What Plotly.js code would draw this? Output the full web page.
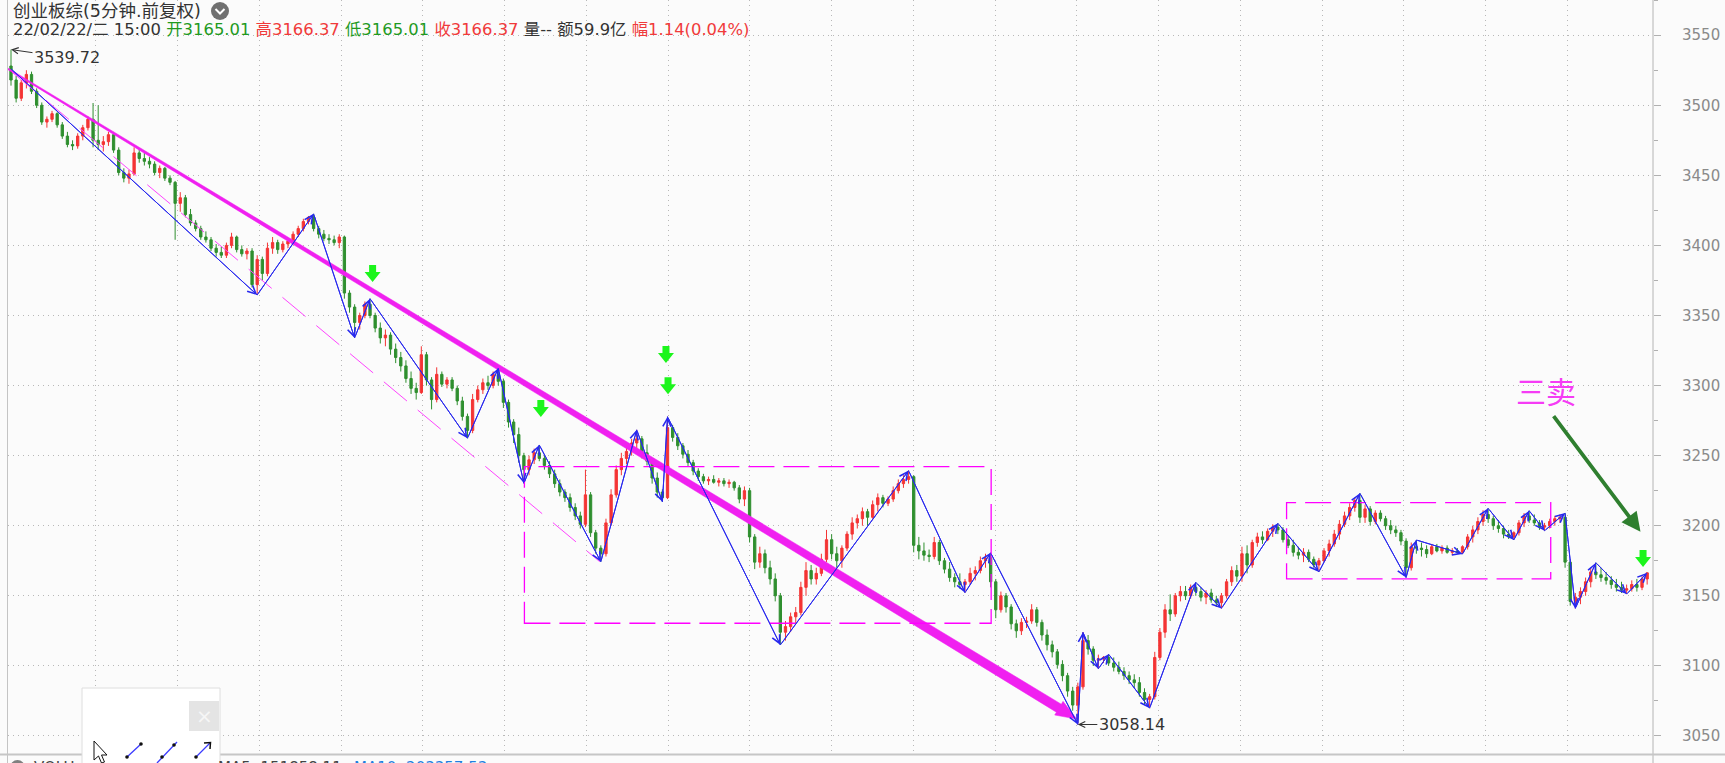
<!DOCTYPE html>
<html><head><meta charset="utf-8">
<script src="https://cdn.plot.ly/plotly-3.0.1.min.js"></script>
<style>html,body{margin:0;padding:0;background:#fbfbfb;}#chart{width:1725px;height:763px;}</style>
</head><body><div id="chart"></div>
<script>
// ---- 15-minute candles ----
const openP = [
3528,3518,3505,3516,3522,3510,3500,3488,3490,3494,3486,3478,3472,3471,3478,3484,
3490,3475,3472,3474,3479,3468,3452,3448,3451,3466,3462,3460,3458,3452,3455,3448,
3445,3430,3434,3422,3416,3412,3406,3404,3398,3395,3393,3400,3406,3397,3394,3396,
3372,3390,3380,3398,3402,3397,3401,3403,3408,3412,3417,3420,3412,3408,3405,3404,
3402,3406,3366,3356,3345,3350,3358,3350,3341,3334,3336,3326,3320,3314,3305,3298,
3295,3322,3304,3290,3308,3301,3304,3298,3289,3278,3268,3290,3297,3302,3300,3308,
3303,3288,3274,3265,3250,3240,3247,3252,3248,3243,3237,3230,3224,3220,3213,3207,
3201,3222,3195,3184,3180,3202,3222,3240,3248,3253,3259,3262,3252,3246,3234,3224,
3220,3270,3263,3257,3251,3245,3239,3235,3232,3233,3231,3232,3230,3231,3227,3219,
3225,3192,3174,3180,3170,3162,3150,3124,3128,3135,3138,3156,3168,3162,3166,3176,
3190,3180,3175,3184,3194,3202,3205,3210,3206,3215,3220,3216,3219,3225,3230,3233,
3235,3186,3182,3179,3178,3188,3175,3169,3163,3160,3158,3160,3166,3168,3175,3177,
3160,3140,3150,3142,3130,3125,3131,3132,3140,3131,3122,3115,3110,3101,3093,3082,
3072,3085,3118,3112,3104,3105,3106,3102,3099,3096,3093,3090,3088,3081,3076,3078,
3106,3124,3140,3137,3150,3153,3150,3156,3153,3149,3152,3147,3145,3150,3160,3168,
3164,3180,3172,3188,3192,3190,3196,3199,3197,3190,3186,3181,3179,3181,3176,3172,
3175,3182,3187,3194,3201,3207,3213,3218,3206,3212,3203,3209,3205,3200,3197,3195,
3189,3170,3185,3184,3183,3180,3185,3182,3184,3181,3182,3181,3185,3192,3197,3203,
3208,3205,3200,3198,3194,3192,3195,3202,3207,3204,3202,3199,3200,3203,3205,3206,
3174,3146,3149,3153,3160,3167,3165,3163,3161,3158,3156,3154,3155,3158,3156,3162];
const highP = [
3539.72,3521,3518,3525,3524,3512,3502,3492,3496,3495,3488,3481,3475,3480,3486,3492,
3501.6,3500,3478,3481,3481,3470,3455,3454,3470,3469,3466,3463,3460,3457,3456,3450,
3446,3438,3436,3426,3418,3414,3410,3406,3401,3399,3402,3409,3407,3400,3398,3398,
3393,3392,3402,3406,3404,3403,3405,3410,3414,3419,3421,3422.5,3414,3411,3408,3407,
3408,3407,3368,3358,3352,3360,3362,3352,3345,3340,3338,3330,3324,3318,3310,3302,
3328,3324,3306,3313,3310,3306,3306,3300,3292,3280,3294,3300,3305,3307,3310,3312.3,
3305,3290,3276,3270,3252,3250,3255,3257.6,3250,3246,3240,3233,3226,3223,3216,3210,
3240,3224,3197,3186,3205,3226,3243,3252,3256,3262,3268.4,3264,3258,3248,3238,3226,
3277.8,3272,3266,3259,3254,3247,3241,3237,3235,3236,3234,3234,3233,3232,3229,3228,
3227,3194,3185,3183,3175,3166,3152,3132,3138,3142,3160,3174,3172,3170,3180,3197,
3194,3185,3186,3196,3206,3208,3213,3212,3218,3223,3222,3221,3228,3233,3236,3239.3,
3236,3192,3188,3183,3192,3190,3177,3174,3166,3166,3162,3170,3171,3178,3180,3180.7,
3162,3153,3152,3144,3133,3134,3135,3144,3142,3133,3126,3118,3112,3104,3095,3085,
3088,3124,3122,3114,3108,3107,3108.3,3106,3103,3099,3096,3094,3092,3084,3080,3110,
3127,3144,3151,3152,3157,3157,3158,3159.6,3156,3154,3155,3150,3152,3162,3171,3172,
3185,3186,3190,3195,3196,3198,3201,3201.7,3199,3193,3190,3185,3184,3183,3178,3177,
3184,3190,3197,3204,3210,3216,3220,3223.1,3215,3214,3211,3211,3207,3204,3200,3197,
3191,3188,3189.8,3188,3186,3187,3187,3186,3186,3184,3184,3186,3194,3200,3206,3211,
3212.4,3207,3204,3200,3197,3196,3204,3209,3210.7,3208,3204,3202,3205,3207,3208,3209,
3176,3152,3156,3163,3170,3173.6,3170,3167,3164,3162,3160,3158,3161,3162,3164,3166.37];
const lowP = [
3514,3502,3503,3512,3508,3498,3486,3484,3488,3484,3476,3470,3468,3469,3475,3482,
3470,3468,3467,3471,3466,3450,3445,3444,3450,3459,3457,3455,3450,3448,3446,3443,
3404,3424,3420,3414,3410,3404,3402,3396,3392,3391,3391,3398,3395,3392,3390,3370,
3364.6,3375,3378,3394,3394,3395,3398,3402,3406,3410,3415,3410,3405,3403,3401,3400,
3398,3362,3352,3334,3340,3348,3348,3338,3330,3328,3322,3316,3310,3302,3294,3290,
3294,3300,3283,3288,3299,3298,3296,3286,3275,3262.4,3266,3288,3294,3297,3298,3300,
3284,3270,3259,3245,3230.2,3236,3244,3246,3240,3234,3227,3221,3217,3210,3204,3198,
3199,3192,3180,3174.3,3178,3200,3220,3236,3244,3250,3254,3248,3243,3230,3220,3217,
3219,3260,3254,3248,3242,3236,3232,3230,3229,3230,3228,3228,3227,3225,3216,3214,
3188,3169,3170,3166,3158,3146,3114.9,3118,3124,3130,3136,3150,3158,3158,3164,3174,
3176,3170,3170,3182,3190,3198,3200,3200,3205,3210,3213,3214,3217,3223,3227,3230,
3181,3176,3175,3174,3176,3172,3166,3160,3156,3155,3152.2,3158,3161,3166,3170,3156,
3134,3138,3138,3126,3120,3122,3127,3130,3128,3118,3111,3106,3098,3089,3078,3068,
3058.14,3083,3108,3100,3097.9,3102,3100,3096,3094,3090,3087,3084,3078,3072,3069.8,3076,
3104,3120,3132,3135,3146,3147,3148,3150,3146,3144,3145,3142,3141,3148,3157,3160,
3160,3166,3170,3185,3187,3189,3192,3194,3188,3184,3178,3176,3174,3174,3170,3167,
3174,3178,3185,3190,3199,3204,3210,3202,3202,3200,3201,3203,3197,3194,3192,3186,
3163,3168,3180,3178,3177,3179,3181,3180,3180,3179,3180,3179.8,3183,3188,3194,3200,
3202,3197,3195,3191,3190.5,3189.8,3193,3199,3202,3200,3197,3196.4,3198,3200,3202,3170,
3143,3141,3144,3150,3156,3162,3160,3158,3155,3153,3152,3151.2,3153,3153,3154,3158];
const closeP = [
3518,3505,3516,3522,3510,3500,3488,3490,3494,3486,3478,3472,3471,3478,3484,3490,
3475,3472,3474,3479,3468,3452,3448,3451,3466,3462,3460,3458,3452,3455,3448,3445,
3430,3434,3422,3416,3412,3406,3404,3398,3395,3393,3400,3406,3397,3394,3396,3372,
3390,3380,3398,3402,3397,3401,3403,3408,3412,3417,3420,3412,3408,3405,3404,3402,
3406,3366,3356,3345,3350,3358,3350,3341,3334,3336,3326,3320,3314,3305,3298,3295,
3322,3304,3290,3308,3301,3304,3298,3289,3278,3268,3290,3297,3302,3300,3308,3303,
3288,3274,3265,3250,3240,3247,3252,3248,3243,3237,3230,3224,3220,3213,3207,3201,
3222,3195,3184,3180,3202,3222,3240,3248,3253,3259,3262,3252,3246,3234,3224,3220,
3270,3263,3257,3251,3245,3239,3235,3232,3233,3231,3232,3230,3231,3227,3219,3225,
3192,3174,3180,3170,3162,3150,3124,3128,3135,3138,3156,3168,3162,3166,3176,3190,
3180,3175,3184,3194,3202,3205,3210,3206,3215,3220,3216,3219,3225,3230,3233,3235,
3186,3182,3179,3178,3188,3175,3169,3163,3160,3158,3160,3166,3168,3175,3177,3160,
3140,3150,3142,3130,3125,3131,3132,3140,3131,3122,3115,3110,3101,3093,3082,3072,
3085,3118,3112,3104,3105,3106,3102,3099,3096,3093,3090,3088,3081,3076,3078,3106,
3124,3140,3137,3150,3153,3150,3156,3153,3149,3152,3147,3145,3150,3160,3168,3164,
3180,3172,3188,3192,3190,3196,3199,3197,3190,3186,3181,3179,3181,3176,3172,3175,
3182,3187,3194,3201,3207,3213,3218,3206,3212,3203,3209,3205,3200,3197,3195,3189,
3170,3185,3184,3183,3180,3185,3182,3184,3181,3182,3181,3185,3192,3197,3203,3208,
3205,3200,3198,3194,3192,3195,3202,3207,3204,3202,3199,3200,3203,3205,3206,3174,
3146,3149,3153,3160,3167,3165,3163,3161,3158,3156,3154,3155,3158,3156,3162,3166.37];

// ---- zigzag (stroke) pivots: candle index, price ----
const zzX = [0,48,59,67,70,89,95,100,103,115,122,127,128,150,175,186,191,208,209,212,214,222,231,236,247,255,263,272,274,283,288,293,296,299,303,305,309,315,319];
const zzY = [3526,3364.6,3422.5,3334,3362,3262.4,3312.3,3230.2,3257.6,3174.3,3268.4,3217,3277.8,3114.9,3239.3,3152.2,3180.7,3058.14,3124,3097.9,3108.3,3069.8,3159.6,3141,3201.7,3167,3223.1,3163,3189.8,3179.8,3212.4,3189.8,3210.7,3196.4,3209,3141,3173.6,3151.2,3166.37];

// ---- drawn objects ----
const trendX = [-0.6, 207.8];      // thick magenta down-trend arrow
const trendY = [3526, 3062];
const chanX = [0.2, 114.8];        // dashed channel line
const chanY = [3523.7, 3174.3];
const boxX0 = [100.1, 248.7];      // pivot zones (dashed rectangles)
const boxX1 = [191.1, 300.2];
const boxY0 = [3130.4, 3162.0];
const boxY1 = [3242.1, 3216.4];
const sigX = [70.5, 103.3, 127.7, 128.1, 318.2];   // green sell arrows
const sigY = [3386, 3289.6, 3328.2, 3305.9, 3182.6];
const hiLabel = {x: 0, y: 3539.72, text: '3539.72'};
const loLabel = {x: 208, y: 3058.14, text: '3058.14'};
const sellText = '三卖';
const sellPos = {x: 299.3, y: 3296.8};
const sellTip = {x: 317.7, y: 3195.7};
const yTickVals = [3050,3100,3150,3200,3250,3300,3350,3400,3450,3500,3550];

const titleText = '创业板综(5分钟.前复权)';
const infoParts = [
  ['22/02/22/二 15:00', '#333333'], ['开3165.01', '#1f9a1f'], ['高3166.37', '#f03a3a'],
  ['低3165.01', '#1f9a1f'], ['收3166.37', '#f03a3a'], ['量-- 额59.9亿', '#333333'], ['幅1.14(0.04%)', '#f03a3a']
];
const volText = 'VOLU';
const ma5Text = 'MA5: 151858.11';
const ma10Text = 'MA10: 203357.53';

// ---- geometry ----
const W = 1725, H = 763;
const M = {l: 8, r: 72, t: 0, b: 9};
const PW = W - M.l - M.r, PH = H - M.t - M.b;
const xRange = [-0.585, 320.14];
const yRange = [3037.1, 3575.1];
const x2px = v => M.l + (v - xRange[0]) / (xRange[1] - xRange[0]) * PW;
const y2px = v => M.t + (yRange[1] - v) / (yRange[1] - yRange[0]) * PH;
const px2x = p => xRange[0] + (p - M.l) / PW * (xRange[1] - xRange[0]);
const py2y = p => yRange[1] - (p - M.t) / PH * (yRange[1] - yRange[0]);
const ppx = p => (p - M.l) / PW;
const ppy = p => 1 - (p - M.t) / PH;

const idx = closeP.map((_, i) => i);
const dayTicks = [];
for (let k = 1; k <= 19; k++) dayTicks.push(px2x(14 + 81.75 * k));

function taperArrow(x0, y0, x1, y1) {
  const a = [x2px(x0), y2px(y0)], b = [x2px(x1), y2px(y1)];
  const dx = b[0] - a[0], dy = b[1] - a[1], len = Math.hypot(dx, dy);
  const ux = dx / len, uy = dy / len, nx = -uy, ny = ux;
  const headLen = 21, headW = 8, w0 = 0.7, w1 = 4.7;
  const base = [b[0] - ux * headLen, b[1] - uy * headLen];
  const pts = [
    [a[0] + nx * w0, a[1] + ny * w0], [base[0] + nx * w1, base[1] + ny * w1],
    [base[0] + nx * headW, base[1] + ny * headW], b,
    [base[0] - nx * headW, base[1] - ny * headW], [base[0] - nx * w1, base[1] - ny * w1],
    [a[0] - nx * w0, a[1] - ny * w0], [a[0] + nx * w0, a[1] + ny * w0]];
  return {x: pts.map(p => px2x(p[0])), y: pts.map(p => py2y(p[1]))};
}
const wedge = taperArrow(trendX[0], trendY[0], trendX[1], trendY[1]);

const BLUE = '#2828ee', MAG = '#f020f0';

const traces = [
  {type: 'candlestick', x: idx, open: openP, high: highP, low: lowP, close: closeP,
   increasing: {line: {color: '#f43434', width: 1}, fillcolor: '#f43434'},
   decreasing: {line: {color: '#2f8f2f', width: 1}, fillcolor: '#2f8f2f'},
   whiskerwidth: 0, hoverinfo: 'skip', showlegend: false},
  {type: 'scatter', mode: 'lines', x: wedge.x, y: wedge.y, fill: 'toself', fillcolor: MAG,
   line: {color: MAG, width: 0.5}, hoverinfo: 'skip', showlegend: false},
  {type: 'scatter', mode: 'lines', x: zzX, y: zzY, line: {color: BLUE, width: 1},
   hoverinfo: 'skip', showlegend: false}
];

const shapes = [];
// hide grid in header band
shapes.push({type: 'rect', xref: 'paper', yref: 'paper', x0: 0, x1: 1, y0: ppy(46), y1: 1,
  fillcolor: '#fbfbfb', line: {width: 0}, layer: 'between'});
// borders
shapes.push({type: 'line', xref: 'paper', yref: 'paper', x0: ppx(7.5), x1: ppx(7.5), y0: ppy(0), y1: ppy(763), line: {color: '#c4c4c4', width: 1}});
shapes.push({type: 'line', xref: 'paper', yref: 'paper', x0: ppx(1653), x1: ppx(1653), y0: ppy(0), y1: ppy(763), line: {color: '#b4b4b4', width: 1}});
shapes.push({type: 'line', xref: 'paper', yref: 'paper', x0: ppx(0), x1: ppx(1725), y0: ppy(754.6), y1: ppy(754.6), line: {color: '#c6c6c6', width: 2}});
// channel line + zones
shapes.push({type: 'line', xref: 'x', yref: 'y', x0: chanX[0], y0: chanY[0], x1: chanX[1], y1: chanY[1],
  line: {color: '#ff44ff', width: 1, dash: '30px,14px'}, layer: 'above'});
boxX0.forEach((x, i) => shapes.push({type: 'rect', xref: 'x', yref: 'y', x0: x, x1: boxX1[i], y0: boxY0[i], y1: boxY1[i],
  line: {color: '#ff00ff', width: 1.3, dash: '26px,9px'}, fillcolor: 'rgba(0,0,0,0)', layer: 'above'}));
// green sell arrows
sigX.forEach((x, i) => shapes.push({type: 'path', xref: 'x', yref: 'y', xsizemode: 'pixel', ysizemode: 'pixel',
  xanchor: x, yanchor: sigY[i], path: 'M-3.5,0 L3.5,0 L3.5,-7 L8,-7 L0,-17 L-8,-7 L-3.5,-7 Z',
  fillcolor: '#1cf51c', line: {color: 'rgba(0,0,0,0)', width: 0}, layer: 'above'}));
// header icon
const pathPx = pts => pts.map((p, i) => (i ? 'L' : 'M') + ppx(p[0]).toFixed(5) + ',' + ppy(p[1]).toFixed(5)).join(' ');
shapes.push({type: 'circle', xref: 'paper', yref: 'paper', x0: ppx(211), x1: ppx(229), y0: ppy(20), y1: ppy(2),
  fillcolor: '#707070', line: {width: 0}});
shapes.push({type: 'path', xref: 'paper', yref: 'paper', path: pathPx([[215.5, 9], [220, 13.5], [224.5, 9]]),
  line: {color: '#ffffff', width: 2}});
// drawing toolbar popup
shapes.push({type: 'rect', xref: 'paper', yref: 'paper', x0: ppx(82), x1: ppx(220), y0: ppy(770), y1: ppy(688),
  fillcolor: '#ffffff', line: {color: '#dedede', width: 1}});
shapes.push({type: 'rect', xref: 'paper', yref: 'paper', x0: ppx(189), x1: ppx(219), y0: ppy(731), y1: ppy(701),
  fillcolor: '#e4e4e4', line: {width: 0}});
shapes.push({type: 'path', xref: 'paper', yref: 'paper',
  path: pathPx([[94, 741], [94, 760], [98.5, 756], [101.5, 763], [104.5, 762], [101.5, 755], [107, 755]]) + ' Z',
  fillcolor: '#ffffff', line: {color: '#111111', width: 1}});
[[[127, 757], [141, 744]], [[157, 763], [177, 742]], [[196, 757], [210, 743]]].forEach(seg =>
  shapes.push({type: 'line', xref: 'paper', yref: 'paper', x0: ppx(seg[0][0]), y0: ppy(seg[0][1]), x1: ppx(seg[1][0]), y1: ppy(seg[1][1]),
    line: {color: '#3b3bff', width: 1.3}}));
[[127, 757], [141, 744], [162, 757], [174, 745], [196, 757]].forEach(p =>
  shapes.push({type: 'circle', xref: 'paper', yref: 'paper', x0: ppx(p[0] - 1.8), x1: ppx(p[0] + 1.8), y0: ppy(p[1] + 1.8), y1: ppy(p[1] - 1.8),
    fillcolor: '#111111', line: {width: 0}}));
shapes.push({type: 'path', xref: 'paper', yref: 'paper', path: pathPx([[204, 743], [210.5, 742.5], [210, 749]]),
  line: {color: '#111111', width: 1.5}});
shapes.push({type: 'circle', xref: 'paper', yref: 'paper', x0: ppx(10), x1: ppx(25), y0: ppy(775), y1: ppy(760),
  fillcolor: '#808080', line: {width: 0}});

const FONT = 'DejaVu Sans, Noto Sans CJK SC, sans-serif';
const annotations = [];
annotations.push({xref: 'paper', yref: 'paper', x: ppx(11), y: ppy(11), xanchor: 'left', yanchor: 'middle', showarrow: false,
  text: titleText, font: {family: FONT, size: 17.5, color: '#333333'}});
annotations.push({xref: 'paper', yref: 'paper', x: ppx(11), y: ppy(29.5), xanchor: 'left', yanchor: 'middle', showarrow: false,
  text: infoParts.map(p => '<span style="color:' + p[1] + '">' + p[0] + '</span>').join(' '),
  font: {family: FONT, size: 16.4, color: '#333333'}});
// extreme price labels
annotations.push({x: hiLabel.x, y: hiLabel.y, xref: 'x', yref: 'y', text: hiLabel.text, showarrow: true,
  ax: 56, ay: 8, arrowhead: 5, arrowsize: 1.2, arrowwidth: 1, arrowcolor: '#333', standoff: 0,
  font: {family: FONT, size: 16, color: '#333333'}});
annotations.push({x: loLabel.x, y: loLabel.y, xref: 'x', yref: 'y', text: loLabel.text, showarrow: true,
  ax: 54, ay: 0, arrowhead: 5, arrowsize: 1.2, arrowwidth: 1, arrowcolor: '#333', standoff: 0,
  font: {family: FONT, size: 16, color: '#333333'}});
// zigzag arrowheads
for (let j = 1; j < zzX.length; j++) {
  annotations.push({x: zzX[j], y: zzY[j], ax: zzX[j - 1], ay: zzY[j - 1], xref: 'x', yref: 'y', axref: 'x', ayref: 'y',
    text: '', showarrow: true, arrowhead: 5, arrowsize: 1.6, arrowwidth: 1, arrowcolor: BLUE, standoff: 0});
}
// 三卖
annotations.push({x: sellPos.x, y: sellPos.y, xref: 'x', yref: 'y', text: sellText, showarrow: false,
  font: {family: 'Noto Sans CJK SC', size: 30, color: '#f53cf5'}});
annotations.push({x: sellTip.x, y: sellTip.y, xref: 'x', yref: 'y', text: '', showarrow: true,
  ax: -88, ay: -117, arrowhead: 2, arrowsize: 1, arrowwidth: 3.8, arrowcolor: '#2f7f2f', standoff: 0});
// toolbar close + bottom strip
annotations.push({xref: 'paper', yref: 'paper', x: ppx(204), y: ppy(716), xanchor: 'center', yanchor: 'middle', text: '×', showarrow: false,
  font: {family: FONT, size: 20, color: '#f6f6f6'}});
annotations.push({xref: 'paper', yref: 'paper', x: ppx(32), y: ppy(757), xanchor: 'left', yanchor: 'top', text: volText, showarrow: false,
  font: {family: FONT, size: 15, color: '#444444'}});
annotations.push({xref: 'paper', yref: 'paper', x: ppx(344), y: ppy(757), xanchor: 'right', yanchor: 'top', text: ma5Text, showarrow: false,
  font: {family: FONT, size: 15, color: '#444444'}});
annotations.push({xref: 'paper', yref: 'paper', x: ppx(352), y: ppy(757), xanchor: 'left', yanchor: 'top', text: ma10Text, showarrow: false,
  font: {family: FONT, size: 15, color: '#1f7fe0'}});

const layout = {
  width: W, height: H, margin: M,
  paper_bgcolor: '#fbfbfb', plot_bgcolor: '#fbfbfb',
  font: {family: FONT},
  showlegend: false, hovermode: false,
  boxgap: 0.55, boxgroupgap: 0,
  xaxis: {range: xRange, rangeslider: {visible: false}, tickmode: 'array', tickvals: dayTicks, showticklabels: false,
    ticks: '', showgrid: true, gridcolor: '#b8b8b8', griddash: '1px,4px', gridwidth: 1, zeroline: false, showline: false, fixedrange: true},
  yaxis: {range: yRange, side: 'right', tickmode: 'array', tickvals: yTickVals, showgrid: true, gridcolor: '#b8b8b8',
    griddash: '1px,4px', gridwidth: 1, zeroline: false, showline: false, ticks: 'outside', ticklen: 7, tickcolor: '#b0b0b0',
    minor: {ticks: 'outside', ticklen: 4, tickcolor: '#b0b0b0', dtick: 25, showgrid: false},
    tickfont: {family: FONT, size: 15, color: '#8a8a8a'}, ticklabelstandoff: 18, fixedrange: true},
  shapes: shapes, annotations: annotations
};

Plotly.newPlot('chart', traces, layout, {staticPlot: true, displayModeBar: false});
</script></body></html>
